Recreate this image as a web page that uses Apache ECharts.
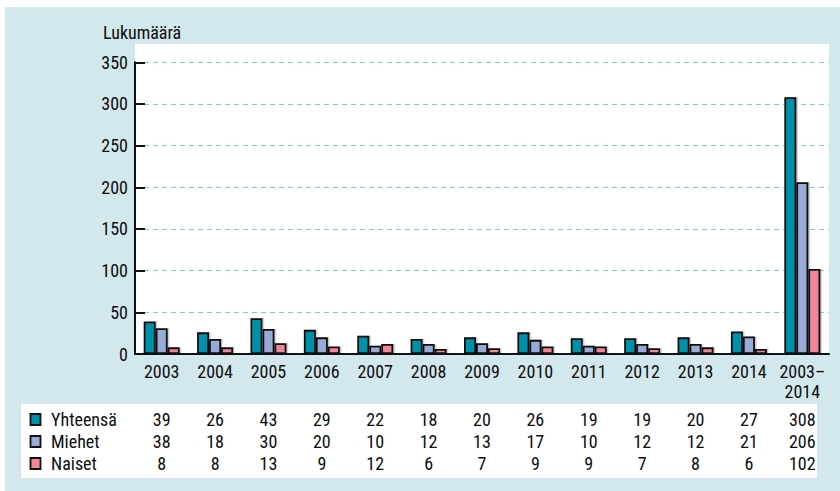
<!DOCTYPE html>
<html>
<head>
<meta charset="utf-8">
<script src="https://cdn.jsdelivr.net/npm/echarts@6/dist/echarts.min.js"></script>
<style>
html,body{margin:0;padding:0;background:#fff;}
#c{width:840px;height:491px;}
</style>
</head>
<body>
<div id="c"></div>
<script>
// ---- data ----
var categories = ['2003','2004','2005','2006','2007','2008','2009','2010','2011','2012','2013','2014','2003–\n2014'];
var seriesNames = ['Yhteensä','Miehet','Naiset'];
var yhteensa = [39,26,43,29,22,18,20,26,19,19,20,27,308];
var miehet   = [31,18,30,20,10,12,13,17,10,12,12,21,206];
var naiset   = [8,8,13,9,12,6,7,9,9,7,8,6,102];
// table text as printed in the source
var tableYhteensa = ['39','26','43','29','22','18','20','26','19','19','20','27','308'];
var tableMiehet   = ['38','18','30','20','10','12','13','17','10','12','12','21','206'];
var tableNaiset   = ['8','8','13','9','12','6','7','9','9','7','8','6','102'];
var yTicks = [0,50,100,150,200,250,300,350];
var yTitle = 'Lukumäärä';

var colors = ['#0091aa','#98aad5','#f3859a'];
var FONT = '"Roboto Condensed", "Liberation Sans", sans-serif';
var TXT = '#0d0d0d';

var chart = echarts.init(document.getElementById('c'), null, {renderer:'svg'});

function mkSeries(name, data, i){
  return {
    name: name, type:'bar', data: data,
    barWidth: 12, barGap: '0%',
    itemStyle:{color: colors[i], borderColor:'#111', borderWidth:1.8,
      shadowColor:'rgba(0,0,0,0.22)', shadowOffsetX:1.5, shadowOffsetY:0, shadowBlur:1},
    emphasis:{disabled:true}, z: 3
  };
}

var option = {
  animation:false,
  backgroundColor:'#ffffff',
  grid:{left:135, right:11, top:62.3, bottom:137, containLabel:false},
  xAxis:{
    type:'category', data: categories,
    axisLine:{show:true, onZero:false, lineStyle:{color:'#111', width:2}},
    axisTick:{show:false},
    axisLabel:{color:TXT, fontFamily:'Roboto Condensed', fontSize:18, margin:7, lineHeight:20, interval:0}
  },
  yAxis:{
    type:'value', min:yTicks[0], max:yTicks[yTicks.length-1], interval:50,
    axisLine:{show:true, lineStyle:{color:'#111', width:2}},
    axisTick:{show:true, inside:true, length:10, lineStyle:{color:'#111', width:2}},
    axisLabel:{color:TXT, fontFamily:'Roboto Condensed', fontSize:18, margin:7},
    splitLine:{show:true, lineStyle:{color:'#7fcbdc', width:1, type:[5,4]}}
  },
  series:[mkSeries(seriesNames[0], yhteensa, 0), mkSeries(seriesNames[1], miehet, 1), mkSeries(seriesNames[2], naiset, 2)]
};
chart.setOption(option);

// build background + table after layout
var F = '18px ' + FONT;
var g = [];
g.push({type:'rect', z:-10, silent:true, shape:{x:5,y:7,width:835,height:484}, style:{fill:'#d3e8ec'}});
g.push({type:'rect', z:-9, silent:true, shape:{x:135,y:44,width:694,height:310}, style:{fill:'#ffffff'}});
g.push({type:'rect', z:-9, silent:true, shape:{x:21,y:404,width:796,height:74}, style:{fill:'#ffffff'}});
g.push({type:'text', z:5, style:{text:yTitle, x:103, y:32, fill:TXT, font:F, textVerticalAlign:'middle', textAlign:'left'}});

var rows = [tableYhteensa, tableMiehet, tableNaiset];
var rowY = [419.5, 441.5, 463.5];
for (var r=0;r<3;r++){
  g.push({type:'rect', z:5, shape:{x:30.5,y:rowY[r]-5.5,width:10,height:11}, style:{fill:colors[r], stroke:'#111', lineWidth:1.8}});
  g.push({type:'text', z:5, style:{text:seriesNames[r], x:51, y:rowY[r], fill:TXT, font:F, textVerticalAlign:'middle', textAlign:'left'}});
  for (var i=0;i<categories.length;i++){
    var px = chart.convertToPixel({xAxisIndex:0}, i);
    g.push({type:'text', z:5, style:{text:rows[r][i], x:px, y:rowY[r], fill:TXT, font:F, textVerticalAlign:'middle', textAlign:'center'}});
  }
}
chart.setOption({graphic: g});
</script>
</body>
</html>
